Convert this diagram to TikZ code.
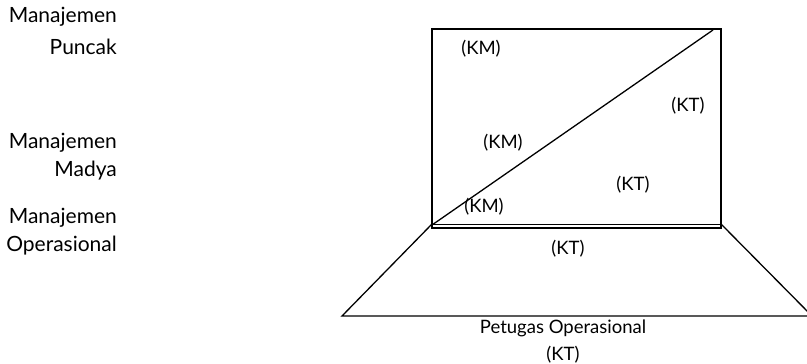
\documentclass[tikz,border=0pt]{standalone}
\usepackage{fontspec}
\setmainfont{Lato}
\begin{document}
\begin{tikzpicture}[x=1pt,y=-1pt,
  lbl/.style={inner sep=0pt,text=black,font=\fontsize{18.5}{22}\selectfont},
  side/.style={inner sep=0pt,anchor=base east,text=black,font=\fontsize{21}{24}\selectfont},
  thick box/.style={line width=2.4pt},
  thin line/.style={line width=1.3pt}]
\useasboundingbox (0,0) rectangle (807,364);
% corners
\coordinate (TL) at (432,29);
\coordinate (TR) at (721,29);
\coordinate (BL) at (432,228);
\coordinate (BR) at (721,228);
\coordinate (DL) at (432,225);
\coordinate (DR) at (713,30);
\coordinate (IL) at (432,224);
\coordinate (IR) at (721,224);
\coordinate (PL) at (342,316);
\coordinate (PR) at (812,316);
% trapezoid
\draw[thin line] (IL) -- (PL) -- (PR) -- (IR);
% rectangle
\draw[thick box] (TL) rectangle (BR);
\draw[line width=0.8pt] (IL) -- (IR);
% diagonal
\draw[thin line] (DL) -- (DR);
% side labels
\node[side] (mp1) at (117,23) {Manajemen};
\node[side] (mp2) at (117,54) {Puncak};
\node[side] (mm1) at (117,148) {Manajemen};
\node[side] (mm2) at (117,176) {Madya};
\node[side] (mo1) at (117,223) {Manajemen};
\node[side] (mo2) at (117,251) {Operasional};
% inner labels
\node[lbl] (km1) at (481,49) {(KM)};
\node[lbl] (kt1) at (688,106) {(KT)};
\node[lbl] (km2) at (503,143) {(KM)};
\node[lbl] (kt2) at (633,185) {(KT)};
\node[lbl] (km3) at (484,207) {(KM)};
\node[lbl] (kt3) at (568,249) {(KT)};
\node[lbl] (po) at (563,328) {Petugas Operasional};
\node[lbl] (kt4) at (563,355) {(KT)};
\end{tikzpicture}
\end{document}
